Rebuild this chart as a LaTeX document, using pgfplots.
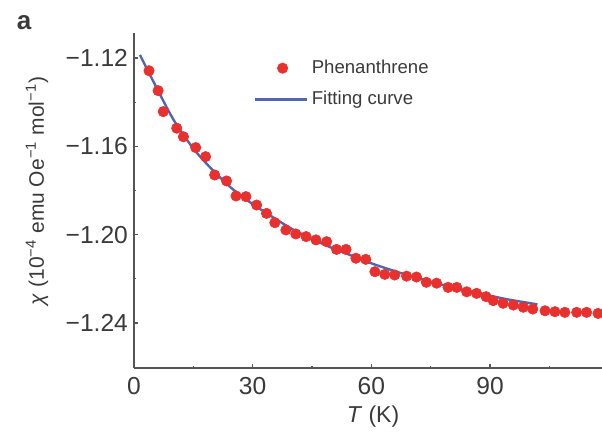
\documentclass[border=0pt]{standalone}
\usepackage{fontspec}
\setmainfont{Liberation Sans}
\usepackage{pgfplots}
\pgfplotsset{compat=1.18}
\definecolor{txt}{HTML}{3A3A3A}
\definecolor{axisgray}{HTML}{555555}
\definecolor{fitblue}{HTML}{5465B0}
\definecolor{ptred}{HTML}{E8302F}
\pgfplotsset{
  marklegend/.style={legend image code/.code={\draw[##1, mark repeat=2, mark phase=2] plot coordinates {(0pt,0pt) (14pt,0pt) (28pt,0pt)};}},
  linelegend/.style={legend image code/.code={\draw[##1] (0pt,0pt) -- (26pt,0pt);}},
}

\begin{document}
\begin{tikzpicture}[x=1pt,y=1pt]
\begin{axis}[
  scale only axis, width=234pt, height=167.5pt,
  at={(0pt,0pt)}, anchor=south west,
  xmin=0, xmax=118.3, ymin=-1.2604, ymax=-1.1087,
  axis lines*=left,
  axis line style={axisgray, line width=0.6pt},
  tick style={axisgray, line width=0.6pt},
  tick align=inside,
  major tick length=2pt, minor tick length=1.2pt,
  xtick={0,30,60,90}, minor xtick={15,45,75,105},
  xticklabels={0,30,60,90},
  ytick={-1.24,-1.20,-1.16,-1.12}, minor ytick={-1.22,-1.18,-1.14},
  yticklabels={−1.24,−1.20,−1.16,−1.12},
  ticklabel style={font=\fontsize{12.3}{14}\selectfont, text=txt},
  yticklabel style={xshift=0.5pt},
  xticklabel style={yshift=-1pt},
  legend style={draw=none, fill=none, at={(axis description cs:0.2415,0.848)}, anchor=west,
    font=\fontsize{9.3}{11}\selectfont, text=txt, row sep=3.5pt,
    legend cell align=left},
]
% measured susceptibility
\addplot[ptred, only marks, mark=*, mark size=2.6pt, mark options={fill=ptred, draw=ptred, line width=0.3pt}, marklegend]
coordinates {
(3.8,-1.1258) (6.1,-1.1348) (7.4,-1.1443) (10.8,-1.1518) (12.5,-1.1557)
(15.6,-1.1606) (18.1,-1.1647) (20.4,-1.1730) (23.4,-1.1757) (25.8,-1.1825)
(28.3,-1.1828) (31.0,-1.1866) (33.5,-1.1904) (35.6,-1.1946) (38.4,-1.1979)
(40.9,-1.1997) (43.5,-1.2009) (46.0,-1.2024) (48.7,-1.2032) (51.2,-1.2067)
(53.6,-1.2067) (56.1,-1.2107) (58.6,-1.2112) (60.9,-1.2168) (63.4,-1.2180)
(65.9,-1.2183) (68.9,-1.2188) (71.4,-1.2192) (73.9,-1.2216) (76.5,-1.2220)
(79.4,-1.2239) (81.6,-1.2239) (84.1,-1.2259) (86.6,-1.2266) (89.0,-1.2281)
(90.8,-1.2299) (93.3,-1.2311) (95.9,-1.2319) (98.4,-1.2329) (100.8,-1.2337)
(103.9,-1.2345) (106.4,-1.2349) (108.9,-1.2352) (111.9,-1.2352) (114.4,-1.2352)
(117.3,-1.2357)
};
\addlegendentry{Phenanthrene}
% fitted curve
\addplot[fitblue, line width=1.2pt, smooth, linelegend]
coordinates {
(1.5,-1.1186) (5,-1.1310) (10,-1.1480) (15,-1.1610) (20,-1.1710) (25,-1.1795)
(30,-1.1862) (35,-1.1920) (40,-1.1975) (45,-1.2020) (50,-1.2060) (55,-1.2095)
(60,-1.2130) (65,-1.2160) (70,-1.2188) (75,-1.2213) (80,-1.2237) (85,-1.2258)
(90,-1.2277) (95,-1.2295) (100,-1.2310) (102,-1.2316)
};
\addlegendentry{Fitting curve}
\end{axis}
\node[font=\bfseries\fontsize{13}{15}\selectfont, text=txt] at (-55pt,172.5pt) {a};
\node[rotate=90, font=\fontsize{10.5}{12}\selectfont, text=txt] at (-48.5pt,88.5pt)
  {\textit{χ} (10\textsuperscript{−4} emu Oe\textsuperscript{−1} mol\textsuperscript{−1})};
\node[font=\fontsize{11.5}{13}\selectfont, text=txt] at (119.5pt,-24.5pt) {\textit{T} (K)};
\pgfresetboundingbox
\path (-67pt,-32.5pt) rectangle (234pt,184pt);
\end{tikzpicture}
\end{document}
